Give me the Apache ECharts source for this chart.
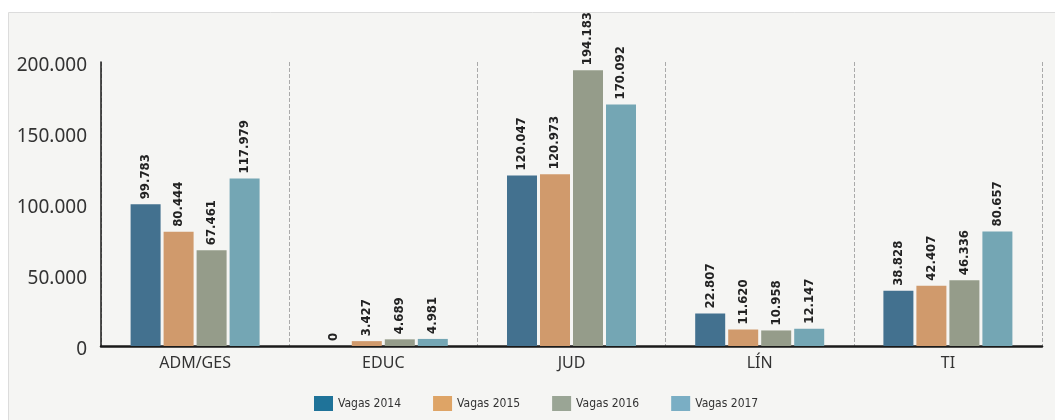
<!DOCTYPE html>
<html><head><meta charset="utf-8">
<script src="https://cdn.jsdelivr.net/npm/echarts@6/dist/echarts.min.js"></script>
<style>html,body{margin:0;padding:0;background:#fff}#c{width:1055px;height:420px}</style>
</head><body><div id="c"></div>
<script>
var categories = ['ADM/GES','EDUC','JUD','LÍN','TI'];
var seriesNames = ['Vagas 2014','Vagas 2015','Vagas 2016','Vagas 2017'];
var v2014 = [99783, 0, 120047, 22807, 38828];
var v2015 = [80444, 3427, 120973, 11620, 42407];
var v2016 = [67461, 4689, 194183, 10958, 46336];
var v2017 = [117979, 4981, 170092, 12147, 80657];
var yTicks = [0, 50000, 100000, 150000, 200000];

var barColors = ['#43718f','#d09a6c','#959c8a','#74a6b4'];
var legendColors = ['#1f7399','#dea466','#9aa595','#7aaec4'];
var fmt = function(n){ return String(n).replace(/\B(?=(\d{3})+(?!\d))/g,'.'); };
var values = [v2014, v2015, v2016, v2017];

var chart = echarts.init(document.getElementById('c'));
chart.setOption({
  animation:false,
  backgroundColor:'#fff',
  graphic:[{type:'rect',z:-10,shape:{x:8.5,y:12.5,width:1060,height:420},style:{fill:'#f5f5f3',stroke:'#dcdcdc',lineWidth:1}}],
  grid:{left:101,right:13,top:62,bottom:74},
  legend:{
    bottom:4,left:309,itemWidth:19,itemHeight:15,itemGap:32,icon:'rect',
    textStyle:{fontFamily:'DejaVu Sans Condensed',fontSize:12,color:'#333'},
    data:seriesNames.map(function(n,i){return {name:n,itemStyle:{color:legendColors[i]}};})
  },
  xAxis:{
    type:'category',data:categories,
    axisLine:{lineStyle:{color:'#1a1a1a',width:2.5}},
    axisTick:{show:false},
    axisLabel:{fontFamily:'Noto Sans',fontSize:16,color:'#333',margin:9},
    splitLine:{show:true,lineStyle:{type:'dashed',color:'#aaa',width:1}}
  },
  yAxis:{
    type:'value',min:0,max:200000,interval:50000,
    axisLine:{show:true,lineStyle:{color:'#1a1a1a',width:1.5}},
    axisTick:{show:false},
    splitLine:{show:false},
    axisLabel:{margin:14,
      formatter:function(v){return yTicks.indexOf(v)>=0?'{v|'+fmt(v)+'}':'';},
      rich:{v:{fontFamily:'Noto Sans',fontSize:19,color:'#333',padding:[8,0,0,0]}}}
  },
  series:seriesNames.map(function(n,i){
    return {name:n,type:'bar',data:values[i],barWidth:30,barGap:'10%',
      itemStyle:{color:barColors[i]},
      label:{show:true,position:'top',rotate:90,align:'left',verticalAlign:'middle',distance:5,
        fontFamily:'DejaVu Sans Condensed',fontWeight:'bold',fontSize:13,color:'#222',
        formatter:function(p){return fmt(p.value);}}
    };
  })
});
</script></body></html>
